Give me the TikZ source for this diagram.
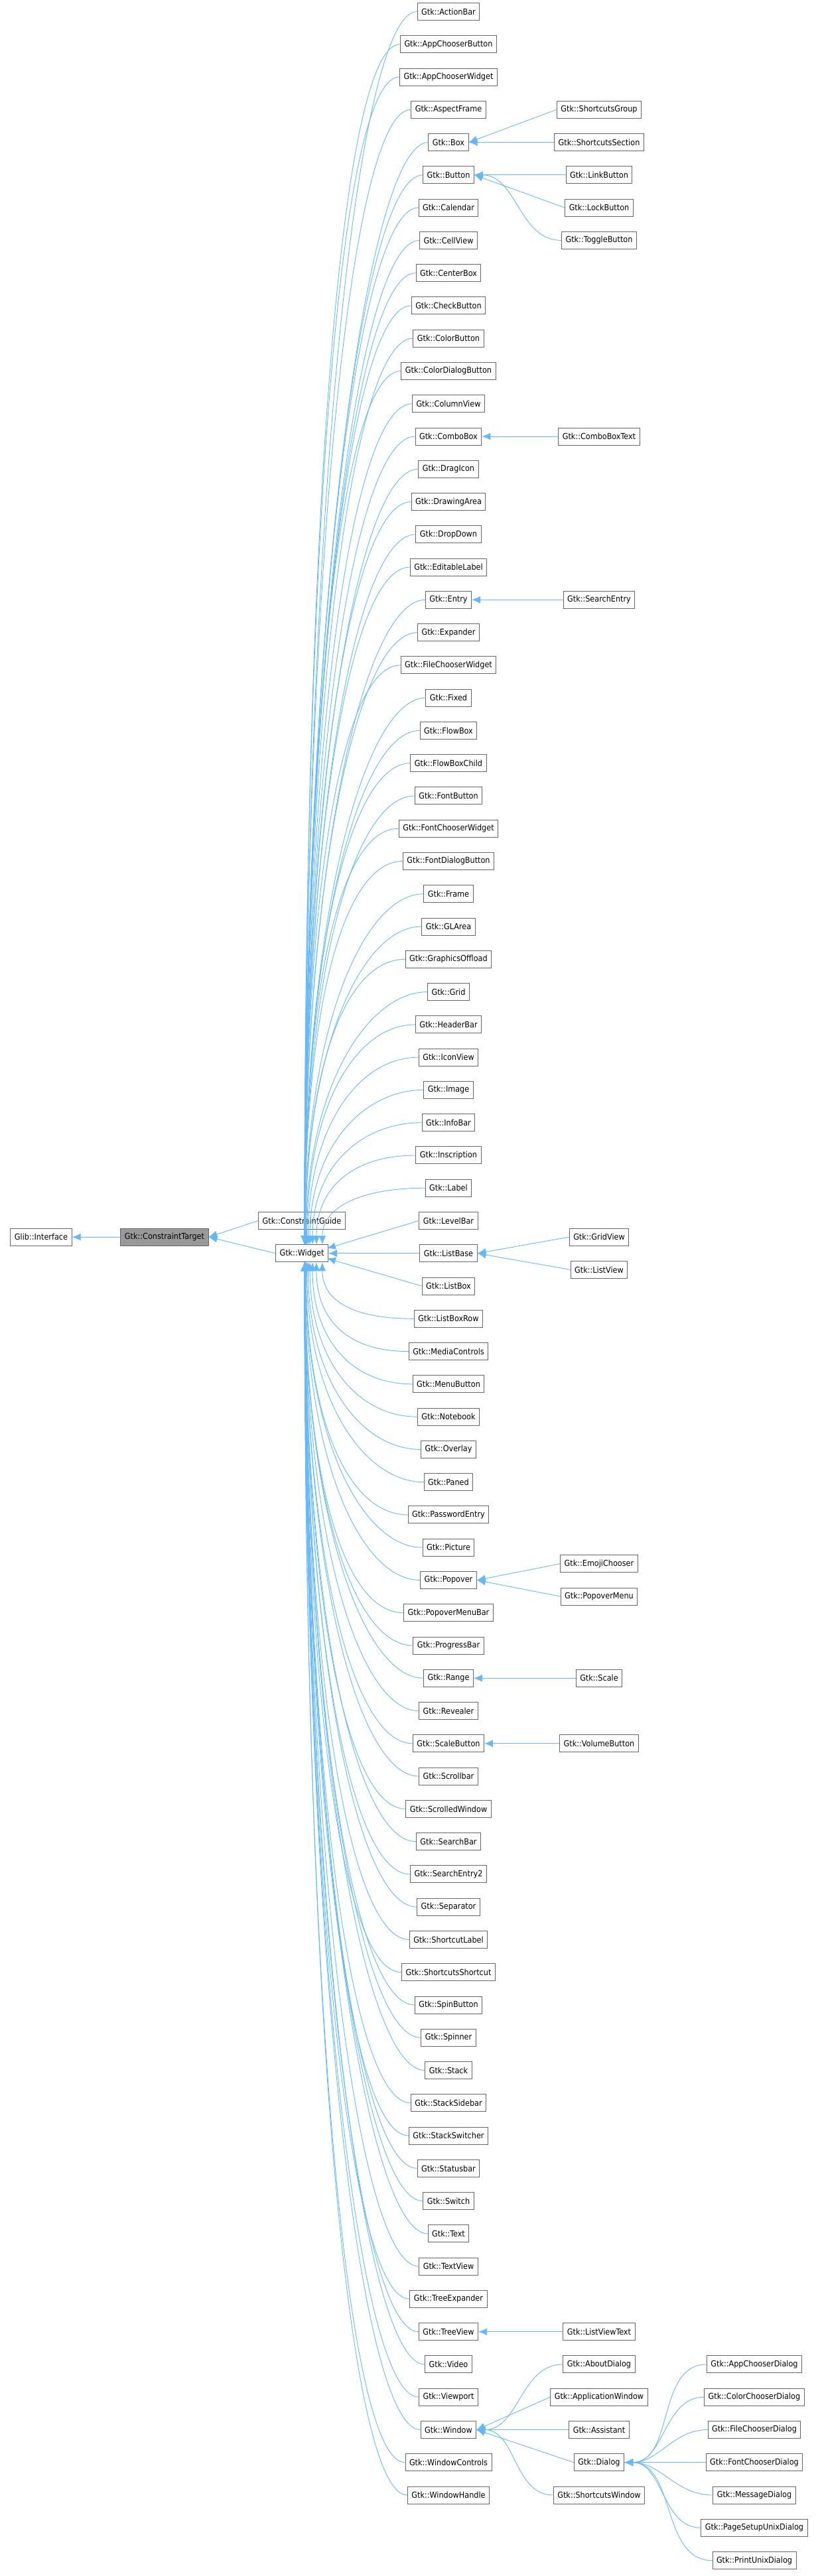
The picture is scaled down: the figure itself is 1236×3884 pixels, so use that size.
\documentclass[tikz,border=0pt]{standalone}
\usepackage{fontspec}
\setmainfont{DejaVu Sans Condensed}
\usetikzlibrary{calc}
\usetikzlibrary{positioning}
\usetikzlibrary{arrows.meta}

\begin{document}
\begin{tikzpicture}
            [x=1pt, y=-1pt,
            cls/.style={draw=black!60, fill=white, line width=1pt, minimum height=26pt, inner xsep=6pt, inner ysep=0pt, font=\fontsize{12.5}{14}\selectfont},
            here/.style={cls, fill=black!40},
            edge/.style={draw=edgeblue, line width=0.9pt, -{Latex[length=13pt,width=11pt]}},
            ]
            \definecolor{edgeblue}{HTML}{63B8FF}
            \useasboundingbox (0,0) rectangle (1236,3884);
            \newcommand{\rowy}[1]{17.5+49.27*#1}

            % base classes
            \node[cls] (Interface) at (62, {\rowy{37.5}}) {Glib::Interface};
            \node[here] (ConstraintTarget) at (248, {\rowy{37.5}}) {Gtk::ConstraintTarget};
            \node[cls] (ConstraintGuide) at (455, {\rowy{37}}) {Gtk::ConstraintGuide};
            \node[cls] (Widget) at (455, {\rowy{38}}) {Gtk::Widget};

            % widgets above
            \foreach \n/\r in {ActionBar/0, AppChooserButton/1, AppChooserWidget/2, AspectFrame/3, Box/4,
                Button/5, Calendar/6, CellView/7, CenterBox/8, CheckButton/9, ColorButton/10,
                ColorDialogButton/11, ColumnView/12, ComboBox/13, DragIcon/14, DrawingArea/15,
                DropDown/16, EditableLabel/17, Entry/18, Expander/19, FileChooserWidget/20, Fixed/21,
                FlowBox/22, FlowBoxChild/23, FontButton/24, FontChooserWidget/25, FontDialogButton/26,
                Frame/27, GLArea/28, GraphicsOffload/29, Grid/30, HeaderBar/31, IconView/32, Image/33,
                InfoBar/34, Inscription/35, Label/36}
            {
                \node[cls] (\n) at (676, {\rowy{\r}}) {Gtk::\n};
                \pgfmathsetmacro\dx{4+40*exp(-(37-\r)/2.5)}
                \pgfmathsetmacro\dy{0.6*49.27*(38-\r)}
                \draw[edge] (\n.west) .. controls ++(-90,0) and ($(Widget.north)+(\dx,-\dy)$) .. ($(Widget.north)+(\dx,0)$);
            }
            % widgets beside
            \node[cls] (LevelBar) at (676, {\rowy{37}}) {Gtk::LevelBar};
            \node[cls] (ListBase) at (676, {\rowy{38}}) {Gtk::ListBase};
            \node[cls] (ListBox) at (676, {\rowy{39}}) {Gtk::ListBox};
            \draw[edge] (LevelBar.west) -- ($(Widget.north east)+(-2,6)$);
            \draw[edge] (ListBase.west) -- (Widget.east);
            \draw[edge] (ListBox.west) -- ($(Widget.south east)+(-2,-6)$);
            % widgets below
            \foreach \n/\r in {ListBoxRow/40, MediaControls/41, MenuButton/42, Notebook/43, Overlay/44,
                Paned/45, PasswordEntry/46, Picture/47, Popover/48, PopoverMenuBar/49, ProgressBar/50,
                Range/51, Revealer/52, ScaleButton/53, Scrollbar/54, ScrolledWindow/55, SearchBar/56,
                SearchEntry2/57, Separator/58, ShortcutLabel/59, ShortcutsShortcut/60, SpinButton/61,
                Spinner/62, Stack/63, StackSidebar/64, StackSwitcher/65, Statusbar/66, Switch/67,
                Text/68, TextView/69, TreeExpander/70, TreeView/71, Video/72, Viewport/73, Window/74,
                WindowControls/75, WindowHandle/76}
            {
                \node[cls] (\n) at (676, {\rowy{\r}}) {Gtk::\n};
                \pgfmathsetmacro\dx{4+40*exp(-(\r-39)/2.5)}
                \pgfmathsetmacro\dy{0.6*49.27*(\r-38)}
                \draw[edge] (\n.west) .. controls ++(-90,0) and ($(Widget.south)+(\dx,\dy)$) .. ($(Widget.south)+(\dx,0)$);
            }

            % grandchildren
            \foreach \n/\r/\p in {ShortcutsGroup/3/Box, ShortcutsSection/4/Box, LinkButton/5/Button,
                LockButton/6/Button, ComboBoxText/13/ComboBox, SearchEntry/18/Entry,
                GridView/37.5/ListBase, ListView/38.5/ListBase, EmojiChooser/47.5/Popover,
                PopoverMenu/48.5/Popover, Scale/51/Range, VolumeButton/53/ScaleButton,
                ListViewText/71/TreeView, ApplicationWindow/73/Window, Assistant/74/Window,
                Dialog/75/Window}
            {
                \node[cls] (\n) at (903, {\rowy{\r}}) {Gtk::\n};
                \draw[edge] (\n.west) -- (\p.east);
            }
            \foreach \n/\r/\p in {ToggleButton/7/Button, AboutDialog/72/Window, ShortcutsWindow/76/Window}
            {
                \node[cls] (\n) at (903, {\rowy{\r}}) {Gtk::\n};
                \draw[edge] (\n.west) to[out=180, in=0] (\p.east);
            }

            % dialogs
            \foreach \n/\r in {AppChooserDialog/72, ColorChooserDialog/73, FileChooserDialog/74,
                FontChooserDialog/75, MessageDialog/76, PageSetupUnixDialog/77, PrintUnixDialog/78}
            {
                \node[cls] (\n) at (1137, {\rowy{\r}}) {Gtk::\n};
                \draw[edge] (\n.west) to[out=180, in=0] (Dialog.east);
            }

            \draw[edge] (ConstraintGuide.west) -- (ConstraintTarget.east);
            \draw[edge] (Widget.west) -- (ConstraintTarget.east);
            \draw[edge] (ConstraintTarget.west) -- (Interface.east);
        \end{tikzpicture}
\end{document}
